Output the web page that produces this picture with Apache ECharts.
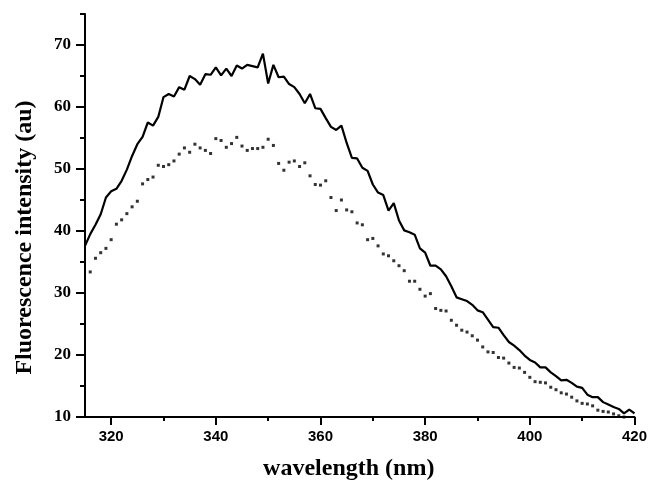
<!DOCTYPE html>
<html><head><meta charset="utf-8">
<script src="https://cdn.jsdelivr.net/npm/echarts@6/dist/echarts.min.js"></script>
<style>html,body{margin:0;padding:0;background:#fff}#c{width:650px;height:486px}</style>
</head><body><div id="c"></div>
<script>
// Solid curve: one value per nm, 315..420
const solidStart = 315;
const solidValues = [
  37.6, 39.5, 41.0, 42.7, 45.4, 46.4, 46.8, 48.1, 49.9, 52.1,
  54.0, 55.2, 57.5, 57.0, 58.4, 61.6, 62.1, 61.7, 63.2, 62.8,
  65.0, 64.5, 63.6, 65.3, 65.2, 66.4, 65.1, 66.2, 65.0, 66.7,
  66.2, 66.8, 66.6, 66.4, 68.6, 63.8, 66.8, 64.8, 64.9, 63.7,
  63.2, 62.1, 60.6, 62.1, 59.8, 59.7, 58.2, 56.8, 56.3, 57.0,
  54.2, 51.8, 51.7, 50.2, 49.7, 47.5, 46.2, 45.8, 43.3, 44.5,
  41.7, 40.1, 39.8, 39.4, 37.2, 36.5, 34.4, 34.4, 33.8, 32.7,
  31.1, 29.3, 29.0, 28.7, 28.1, 27.2, 26.9, 25.7, 24.5, 24.4,
  23.2, 22.1, 21.5, 20.8, 19.9, 19.2, 18.8, 18.0, 18.0, 17.2,
  16.6, 15.9, 16.0, 15.5, 14.9, 14.7, 13.6, 13.2, 13.2, 12.4,
  12.0, 11.6, 11.3, 10.6, 11.2, 10.6
];
// Dotted curve: one value per nm, 316..418
const dottedStart = 316;
const dottedValues = [
  33.4, 35.6, 36.5, 37.2, 38.6, 41.1, 41.8, 42.8, 43.9, 44.8,
  47.6, 48.3, 48.7, 50.6, 50.4, 50.7, 51.3, 52.4, 53.4, 52.7,
  54.0, 53.4, 53.0, 52.5, 54.9, 54.6, 53.5, 54.1, 55.1, 53.7,
  53.0, 53.3, 53.3, 53.5, 54.8, 53.8, 50.9, 49.8, 51.1, 51.3,
  50.4, 51.0, 48.9, 47.5, 47.4, 48.1, 45.4, 43.3, 45.0, 43.4,
  43.1, 41.3, 41.0, 38.6, 38.8, 37.6, 36.3, 36.0, 35.2, 34.4,
  33.6, 31.9, 31.9, 30.6, 29.5, 29.9, 27.5, 27.2, 27.1, 25.6,
  24.8, 24.0, 23.7, 23.1, 22.4, 21.3, 20.5, 20.4, 19.6, 19.5,
  18.7, 18.0, 17.9, 17.2, 16.4, 15.7, 15.6, 15.5, 14.8, 14.4,
  13.9, 13.7, 13.2, 12.6, 12.2, 12.1, 11.8, 11.1, 10.9, 10.8,
  10.5, 10.2, 10.0
];
const xTickLabels = [320, 340, 360, 380, 400, 420];
const xMinorTicks = [330, 350, 370, 390, 410];
const yTickLabels = [10, 20, 30, 40, 50, 60, 70];
const yMinorTicks = [15, 25, 35, 45, 55, 65, 75];

const solidData = solidValues.map((v, i) => [solidStart + i, v]);
const dottedData = dottedValues.map((v, i) => [dottedStart + i, v]);

const axisLineStyle = { color: '#000', width: 2 };
const chart = echarts.init(document.getElementById('c'), null, { renderer: 'canvas' });
chart.setOption({
  animation: false,
  backgroundColor: '#fff',
  grid: { left: 85, right: 13, top: 14, bottom: 67, containLabel: false },
  xAxis: [
    {
      type: 'value', min: 315, max: 420,
      axisLine: { show: true, onZero: false, lineStyle: axisLineStyle },
      axisTick: { show: true, customValues: xTickLabels, length: 8, lineStyle: { color: '#000', width: 2 } },
      axisLabel: { customValues: xTickLabels, color: '#000', fontFamily: 'Liberation Sans', fontWeight: 'bold', fontSize: 15, margin: 12 },
      splitLine: { show: false },
      name: 'wavelength (nm)', nameLocation: 'middle', nameGap: 40,
      nameTextStyle: { color: '#000', fontFamily: 'Liberation Serif', fontWeight: 'bold', fontSize: 24, padding: [0, 22, 0, 0] }
    },
    {
      type: 'value', min: 315, max: 420, position: 'bottom',
      axisLine: { show: false, onZero: false },
      axisTick: { show: true, customValues: xMinorTicks, length: 4, lineStyle: { color: '#000', width: 2 } },
      axisLabel: { show: false },
      splitLine: { show: false }
    }
  ],
  yAxis: [
    {
      type: 'value', min: 10, max: 75,
      axisLine: { show: true, onZero: false, lineStyle: axisLineStyle },
      axisTick: { show: true, customValues: yTickLabels, length: 9, lineStyle: { color: '#000', width: 2 } },
      axisLabel: { customValues: yTickLabels, color: '#000', fontFamily: 'Liberation Serif', fontWeight: 'bold', fontSize: 17, margin: 14 },
      splitLine: { show: false },
      name: 'Fluorescence intensity (au)', nameLocation: 'middle', nameGap: 48,
      nameTextStyle: { color: '#000', fontFamily: 'Liberation Serif', fontWeight: 'bold', fontSize: 24, padding: [0, 44, 0, 0] }
    },
    {
      type: 'value', min: 10, max: 75, position: 'left',
      axisLine: { show: false, onZero: false },
      axisTick: { show: true, customValues: yMinorTicks, length: 5, lineStyle: { color: '#000', width: 2 } },
      axisLabel: { show: false },
      splitLine: { show: false }
    }
  ],
  series: [
    {
      type: 'line', data: solidData, xAxisIndex: 0, yAxisIndex: 0,
      showSymbol: false, symbol: 'none',
      lineStyle: { color: '#000', width: 2.2 }, z: 3
    },
    {
      type: 'scatter', data: dottedData, xAxisIndex: 0, yAxisIndex: 0,
      symbol: 'rect', symbolSize: 3,
      itemStyle: { color: '#000' }, z: 2
    }
  ]
});
</script>
</body></html>
